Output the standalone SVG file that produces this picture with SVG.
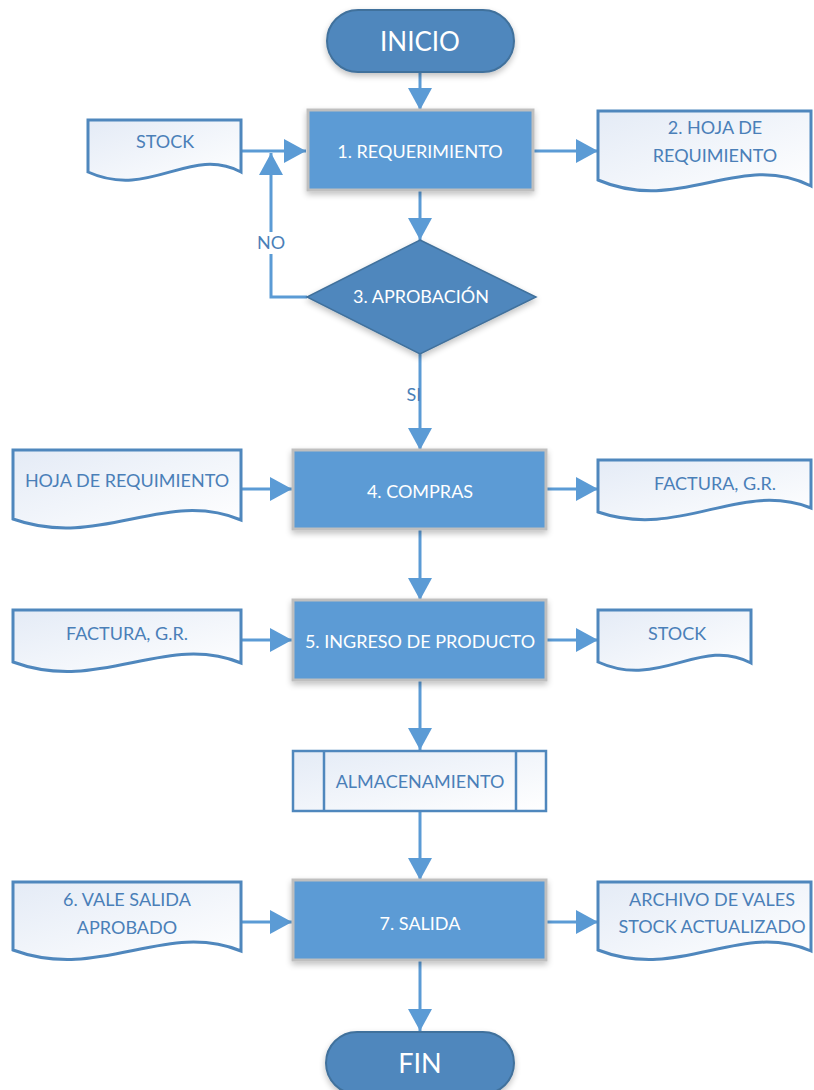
<svg xmlns="http://www.w3.org/2000/svg" width="814" height="1090" viewBox="0 0 814 1090">
<style>
text{font-family:Lato,"Open Sans","Liberation Sans",sans-serif;}
.proc{fill:#5b9bd5;stroke:#bfbfbf;stroke-width:3;}
.term{fill:#4f87bd;stroke:#41719c;stroke-width:2;}
.doc{fill:url(#docg);stroke:#4f87bd;stroke-width:3;}
.wt{fill:#ffffff;font-size:18px;text-anchor:middle;}
.bt{fill:#4a7fb8;font-size:18px;text-anchor:middle;}
.con{fill:none;stroke:#5b9bd5;stroke-width:3;}
</style>
<defs>
<linearGradient id="docg" x1="0" y1="0" x2="1" y2="1">
<stop offset="0" stop-color="#e4ebf6"/>
<stop offset="1" stop-color="#ffffff"/>
</linearGradient>
<filter id="sh" x="-20%" y="-20%" width="140%" height="150%">
<feGaussianBlur in="SourceAlpha" stdDeviation="3"/>
<feOffset dx="0" dy="3"/>
<feComponentTransfer><feFuncA type="linear" slope="0.25"/></feComponentTransfer>
<feMerge><feMergeNode/><feMergeNode in="SourceGraphic"/></feMerge>
</filter>
<marker id="ah" markerUnits="userSpaceOnUse" markerWidth="22" markerHeight="24" refX="22" refY="12" orient="auto" viewBox="0 0 22 24">
<path d="M0,0 L22,12 L0,24 z" fill="#5b9bd5"/>
</marker>
</defs>

<g id="connectors">
<line class="con" x1="420" y1="72" x2="420" y2="110" marker-end="url(#ah)"/>
<line class="con" x1="420" y1="190" x2="420" y2="240" marker-end="url(#ah)"/>
<line class="con" x1="420" y1="354" x2="420" y2="450" marker-end="url(#ah)"/>
<line class="con" x1="420" y1="529" x2="420" y2="600" marker-end="url(#ah)"/>
<line class="con" x1="420" y1="680" x2="420" y2="750" marker-end="url(#ah)"/>
<line class="con" x1="420" y1="811" x2="420" y2="880" marker-end="url(#ah)"/>
<line class="con" x1="420" y1="960" x2="420" y2="1031" marker-end="url(#ah)"/>
<line class="con" x1="241" y1="151" x2="306" y2="151" marker-end="url(#ah)"/>
<line class="con" x1="533" y1="151" x2="598" y2="151" marker-end="url(#ah)"/>
<line class="con" x1="241" y1="489" x2="292" y2="489" marker-end="url(#ah)"/>
<line class="con" x1="546" y1="489" x2="598" y2="489" marker-end="url(#ah)"/>
<line class="con" x1="241" y1="640" x2="292" y2="640" marker-end="url(#ah)"/>
<line class="con" x1="546" y1="640" x2="598" y2="640" marker-end="url(#ah)"/>
<line class="con" x1="241" y1="922" x2="292" y2="922" marker-end="url(#ah)"/>
<line class="con" x1="546" y1="922" x2="598" y2="922" marker-end="url(#ah)"/>
<path class="con" d="M307,297 H271 V153" marker-end="url(#ah)"/>
<rect x="255" y="232" width="32" height="22" fill="#ffffff"/>
<text class="bt" x="271" y="249">NO</text>
<text class="bt" x="414" y="401">SI</text>
</g>

<g id="inicio">
<rect class="term" x="327" y="10" width="187" height="62" rx="31" filter="url(#sh)"/>
<text class="wt" x="420" y="51" style="font-size:26px">INICIO</text>
</g>

<g id="req">
<rect class="proc" x="308" y="110" width="225" height="80" filter="url(#sh)"/>
<text class="wt" x="420" y="158">1. REQUERIMIENTO</text>
</g>

<g id="doc-stock1">
<path class="doc" d="M88,120 H241 V172 C190,145 150,200 88,172 Z"/>
<text class="bt" x="165" y="148">STOCK</text>
</g>

<g id="doc-hoja1">
<path class="doc" d="M598,111 H811 V186 C740,150 680,215 598,180 Z"/>
<text class="bt" x="715" y="134">2. HOJA DE</text>
<text class="bt" x="715" y="162">REQUIMIENTO</text>
</g>

<g id="aprobacion">
<polygon points="420,240 536,297 420,354 307,297" fill="#4f87bd" stroke="#41719c" stroke-width="1.5" filter="url(#sh)"/>
<text class="wt" x="421" y="303">3. APROBACIÓN</text>
</g>

<g id="compras">
<rect class="proc" x="293" y="450" width="253" height="79" filter="url(#sh)"/>
<text class="wt" x="420" y="498">4. COMPRAS</text>
</g>

<g id="doc-hoja2">
<path class="doc" d="M13,450 H241 V520 C165,488 100,550 13,519 Z"/>
<text class="bt" x="127" y="487">HOJA DE REQUIMIENTO</text>
</g>

<g id="doc-factura1">
<path class="doc" d="M598,460 H811 V508 C740,480 680,540 598,512 Z"/>
<text class="bt" x="715" y="490">FACTURA, G.R.</text>
</g>

<g id="ingreso">
<rect class="proc" x="293" y="600" width="253" height="80" filter="url(#sh)"/>
<text class="wt" x="420" y="648">5. INGRESO DE PRODUCTO</text>
</g>

<g id="doc-factura2">
<path class="doc" d="M13,610 H241 V663 C165,632 100,694 13,662 Z"/>
<text class="bt" x="127" y="640">FACTURA, G.R.</text>
</g>

<g id="doc-stock2">
<path class="doc" d="M598,610 H751 V663 C700,636 660,690 598,662 Z"/>
<text class="bt" x="677" y="640">STOCK</text>
</g>

<g id="almacenamiento">
<rect x="293" y="751" width="253" height="60" fill="url(#docg)" stroke="#4f87bd" stroke-width="2.5"/>
<line x1="324" y1="751" x2="324" y2="811" stroke="#4f87bd" stroke-width="2.5"/>
<line x1="516" y1="751" x2="516" y2="811" stroke="#4f87bd" stroke-width="2.5"/>
<text class="bt" x="420" y="788">ALMACENAMIENTO</text>
</g>

<g id="salida">
<rect class="proc" x="293" y="880" width="253" height="80" filter="url(#sh)"/>
<text class="wt" x="420" y="930">7. SALIDA</text>
</g>

<g id="doc-vale">
<path class="doc" d="M13,882 H241 V951 C165,920 100,982 13,950 Z"/>
<text class="bt" x="127" y="906">6. VALE SALIDA</text>
<text class="bt" x="127" y="934">APROBADO</text>
</g>

<g id="doc-archivo">
<path class="doc" d="M598,882 H811 V951 C740,920 680,982 598,950 Z"/>
<text class="bt" x="712" y="906">ARCHIVO DE VALES</text>
<text class="bt" x="712" y="933">STOCK ACTUALIZADO</text>
</g>

<g id="fin">
<rect class="term" x="326" y="1032" width="188" height="62" rx="31" filter="url(#sh)"/>
<text class="wt" x="420" y="1073" style="font-size:27px">FIN</text>
</g>
</svg>
